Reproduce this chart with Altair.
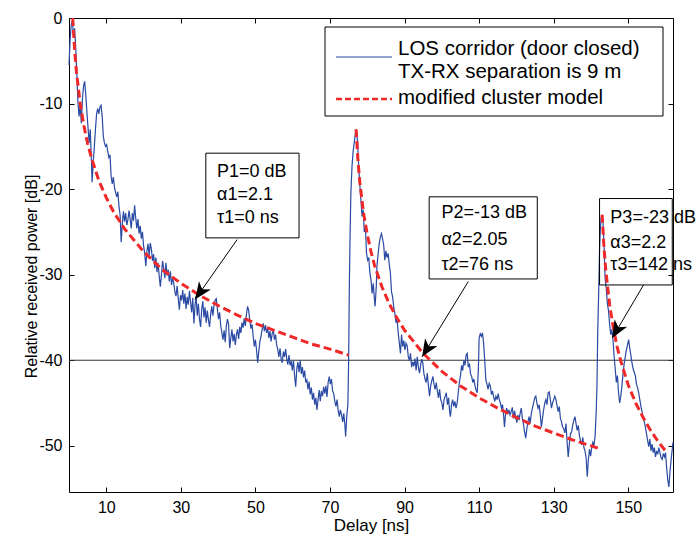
import altair as alt
import pandas as pd

# ---------------- data ----------------
# measured power delay profile (delay ns, relative power dB)
meas_seg1 = [(0.0,-5.5),(0.3,-2.5),(0.6,-0.8),(0.9,-0.3),(1.2,-2.0),(1.5,-1.2),(1.8,-3.5),(2.1,-6.5),(2.4,-9.8),(2.7,-11.5),
             (3.0,-10.2),(3.3,-12.3),(3.6,-9.5),(3.9,-8.0),(4.2,-7.4),(4.5,-9.0),(4.8,-11.0),(5.1,-12.8),(5.4,-14.6),(5.7,-13.0),
             (6.0,-16.5),(6.2,-19.2),(6.5,-16.8),(6.8,-15.0),(7.1,-13.0),(7.4,-11.2),(7.7,-10.6),(8.0,-11.2),(8.3,-10.4),(8.6,-10.2),
             (8.9,-11.5),(9.2,-13.8),(9.5,-14.6),(9.8,-15.0),(10.1,-14.8),(10.4,-15.6),(10.7,-16.3),(11.0,-16.0),(11.3,-18.5),(11.6,-19.4),
             (11.9,-18.6),(12.2,-19.8),(12.5,-20.4),(12.8,-20.9),(13.1,-20.3),(13.4,-22.0),(13.7,-23.0),(14.0,-26.2),(14.3,-24.0),(14.6,-22.6),
             (14.9,-23.8),(15.2,-22.8),(15.5,-24.2),(15.8,-23.6),(16.1,-22.5),(16.4,-23.5),(16.7,-24.6),(17.0,-22.8),(17.3,-23.7),(17.6,-21.9),
             (17.9,-23.4),(18.2,-24.6),(18.5,-23.5),(18.8,-25.2),(19.1,-24.3),(19.4,-25.8),(19.7,-25.0),(20.0,-26.6),(20.3,-27.5),(20.6,-29.0),
             (20.9,-27.2),(21.2,-26.4),(21.5,-27.8),(21.8,-26.3),(22.1,-27.0),(22.4,-28.4),(22.7,-27.6),(23.0,-29.2),(23.3,-28.0),(23.6,-29.7),
             (23.9,-28.6),(24.2,-30.2),(24.5,-31.4),(24.8,-30.0),(25.1,-28.4),(25.4,-29.3),(25.7,-30.4),(26.0,-28.6),(26.3,-30.1),(26.6,-29.4),
             (26.9,-30.8),(27.2,-29.6),(27.5,-31.2),(27.8,-30.4),(28.1,-31.0),(28.4,-32.0),(28.7,-32.5),(29.0,-31.3),(29.3,-32.8),(29.6,-34.1),
             (29.9,-32.4)]
meas_seg2 = [(30.2,-33.0),(30.5,-31.8),(30.8,-33.4),(31.1,-32.2),(31.4,-34.0),(31.7,-32.6),(32.0,-33.5),(32.3,-31.9),(32.6,-33.2),(32.9,-34.4),
             (33.2,-32.7),(33.5,-35.7),(33.8,-33.6),(34.1,-32.5),(34.4,-34.8),(34.7,-33.4),(35.0,-35.2),(35.3,-36.1),(35.6,-34.0),(35.9,-33.1),
             (36.2,-35.0),(36.5,-33.8),(36.8,-35.6),(37.1,-34.2),(37.4,-35.3),(37.7,-36.1),(38.0,-34.6),(38.3,-33.7),(38.6,-34.8),(38.9,-33.5),
             (39.2,-33.0),(39.5,-32.8),(39.8,-34.0),(40.1,-35.2),(40.4,-34.4),(40.7,-36.0),(41.0,-36.8),(41.3,-37.6),(41.6,-36.5),(41.9,-37.9),
             (42.2,-36.0),(42.5,-35.2),(42.8,-35.8),(43.1,-38.6),(43.4,-37.4),(43.7,-36.4),(44.0,-37.8),(44.3,-36.9),(44.6,-38.2),(44.9,-37.0),
             (45.2,-36.4),(45.5,-37.5),(45.8,-36.1),(46.1,-36.8),(46.4,-35.6),(46.7,-36.2),(47.0,-35.1),(47.3,-36.0),(47.6,-34.6),(47.9,-33.7),
             (48.2,-34.2),(48.5,-35.4),(48.8,-36.3),(49.1,-35.8),(49.4,-37.2),(49.7,-38.4),(50.0,-37.6),(50.3,-38.8),(50.6,-40.3),(50.9,-39.0),
             (51.2,-37.8),(51.5,-37.2),(51.8,-36.4),(52.1,-35.7),(52.4,-36.6),(52.7,-35.9),(53.0,-36.8),(53.3,-36.2),(53.6,-37.4),(53.9,-36.6),
             (54.2,-37.8),(54.5,-36.9),(54.8,-36.4),(55.1,-37.6),(55.4,-37.0),(55.7,-38.2),(56.0,-38.8),(56.3,-39.6),(56.6,-38.6),(56.9,-39.9),
             (57.2,-40.3),(57.5,-39.0),(57.8,-39.6),(58.1,-38.7),(58.4,-39.8),(58.7,-40.5),(59.0,-39.4),(59.3,-40.6),(59.6,-40.1)]
meas_seg3 = [(59.9,-41.2),(60.2,-40.0),(60.5,-41.8),(60.8,-43.1),(61.1,-41.0),(61.4,-40.2),(61.7,-41.4),(62.0,-40.0),(62.3,-41.6),(62.6,-40.8),
             (62.9,-42.0),(63.2,-41.2),(63.5,-42.6),(63.8,-42.3),(64.1,-43.4),(64.4,-42.5),(64.7,-44.0),(65.0,-43.2),(65.3,-44.6),(65.6,-43.8),
             (65.9,-45.2),(66.2,-44.4),(66.5,-45.8),(66.8,-44.6),(67.1,-43.5),(67.4,-44.8),(67.7,-43.6),(68.0,-44.2),(68.3,-43.1),(68.6,-43.9),
             (68.9,-43.0),(69.2,-44.3),(69.5,-42.6),(69.8,-41.9),(70.1,-42.8),(70.4,-42.2),(70.7,-43.6),(71.0,-43.9),(71.3,-44.8),(71.6,-45.4),
             (71.9,-44.6),(72.2,-45.9),(72.5,-46.6),(72.8,-45.8),(73.1,-46.4),(73.4,-47.2),(73.7,-46.2),(74.0,-47.6),(74.2,-48.9),(74.5,-46.5),
             (74.8,-45.2),(75.0,-40.0),(75.2,-31.0),(75.4,-25.1),(75.6,-20.5),(75.9,-17.4),(76.2,-15.6),(76.5,-14.6),(76.8,-13.5),(77.1,-13.2),
             (77.4,-14.4),(77.7,-17.4),(78.0,-19.5),(78.3,-21.3),(78.6,-23.2),(78.9,-22.4),(79.2,-25.0),(79.5,-24.5),(79.8,-27.5),(80.1,-28.3),
             (80.4,-28.0),(80.7,-29.8),(81.0,-30.6),(81.3,-32.2),(81.6,-31.0),(81.9,-32.8),(82.1,-33.7),(82.4,-31.5),(82.6,-29.0),(82.9,-27.6),
             (83.2,-26.4),(83.5,-25.6),(83.8,-25.2),(84.1,-25.8),(84.4,-26.5),(84.7,-28.3),(85.0,-27.2),(85.3,-28.0),(85.6,-27.5),(85.9,-28.8),
             (86.2,-29.8),(86.5,-32.0),(86.8,-32.6),(87.1,-33.8),(87.4,-34.5),(87.7,-35.6),(88.0,-35.2),(88.3,-36.8),(88.6,-38.0),(88.9,-39.2),
             (89.2,-37.0),(89.5,-38.4),(89.8,-37.7)]
meas_seg4 = [(90.1,-38.8),(90.4,-38.0),(90.7,-38.3),(91.0,-39.6),(91.3,-40.0),(91.6,-39.2),(91.9,-40.8),(92.2,-40.2),(92.5,-40.7),(92.8,-39.8),
             (93.1,-41.2),(93.4,-39.6),(93.7,-40.8),(94.0,-41.5),(94.3,-40.6),(94.6,-39.9),(94.9,-40.3),(95.2,-41.6),(95.5,-42.2),(95.8,-42.6),
             (96.1,-41.5),(96.4,-43.0),(96.7,-44.2),(97.0,-43.0),(97.3,-42.4),(97.6,-41.9),(97.9,-42.8),(98.2,-43.4),(98.5,-42.6),(98.8,-43.6),
             (99.1,-44.4),(99.4,-43.4),(99.7,-44.6),(100.0,-45.0),(100.3,-45.8),(100.6,-44.6),(100.9,-44.2),(101.2,-43.8),(101.5,-45.2),(101.8,-44.4),
             (102.1,-46.0),(102.3,-46.6),(102.6,-45.2),(102.9,-44.6),(103.2,-45.4),(103.5,-44.8),(103.8,-45.6),(104.1,-45.0),(104.4,-43.8),(104.7,-42.6),
             (105.0,-41.8),(105.3,-40.6),(105.6,-41.2),(105.9,-40.0),(106.2,-40.6),(106.5,-39.4),(106.8,-39.2),(107.1,-40.8),(107.4,-40.4),(107.7,-41.6),
             (108.0,-41.9),(108.3,-42.6),(108.6,-42.2),(108.9,-43.0),(109.2,-43.5),(109.5,-43.8),(109.8,-41.0),(110.0,-37.4),(110.3,-36.9),(110.6,-37.2),
             (110.9,-36.8),(111.2,-38.0),(111.5,-40.0),(111.8,-42.3),(112.1,-42.8),(112.4,-43.4),(112.7,-42.7),(113.0,-43.0),(113.3,-44.0),(113.6,-43.6),
             (113.9,-44.3),(114.2,-44.8),(114.5,-44.2),(114.8,-44.6),(115.1,-43.9),(115.4,-44.6),(115.7,-45.0),(116.0,-45.6),(116.3,-45.2),(116.6,-46.6),
             (116.8,-47.8),(117.1,-46.2),(117.4,-45.6),(117.7,-46.3),(118.0,-45.8),(118.3,-46.4),(118.6,-46.0),(118.9,-45.5),(119.2,-46.8),(119.5,-45.9),
             (119.8,-46.6)]
meas_seg5 = [(120.1,-47.3),(120.4,-46.4),(120.7,-47.0),(121.0,-46.2),(121.3,-45.6),(121.6,-46.8),(121.9,-47.5),(122.2,-48.4),(122.5,-49.1),(122.8,-48.0),
             (123.1,-47.2),(123.4,-46.6),(123.7,-47.4),(124.0,-46.2),(124.3,-45.6),(124.6,-45.0),(124.9,-44.4),(125.2,-44.2),(125.5,-45.0),(125.8,-45.6),
             (126.1,-45.2),(126.4,-46.4),(126.7,-47.8),(127.0,-46.8),(127.3,-45.8),(127.6,-45.0),(127.9,-44.6),(128.2,-45.2),(128.5,-43.8),(128.8,-43.7),
             (129.1,-44.6),(129.4,-45.6),(129.7,-45.0),(130.0,-44.6),(130.3,-44.2),(130.6,-44.6),(130.9,-45.3),(131.2,-46.0),(131.5,-45.4),(131.8,-46.8),
             (132.1,-47.2),(132.4,-47.8),(132.7,-48.0),(133.0,-48.5),(133.3,-47.4),(133.6,-49.6),(133.9,-51.3),(134.2,-49.8),(134.5,-48.6),(134.8,-48.4),
             (135.1,-47.6),(135.4,-47.0),(135.7,-46.6),(136.0,-47.4),(136.3,-48.2),(136.6,-47.6),(136.9,-48.8),(137.2,-49.4),(137.5,-49.9),(137.8,-49.0),
             (138.1,-50.2),(138.4,-50.6),(138.7,-51.4),(139.0,-53.6),(139.3,-51.6),(139.6,-50.4),(139.9,-51.2),(140.2,-50.2),(140.5,-49.6),(140.8,-50.0),
             (141.1,-48.9),(141.4,-46.0),(141.6,-43.1),(141.8,-37.0),(142.1,-31.4),(142.3,-27.0),(142.5,-24.8),(142.7,-23.4),(142.9,-23.0),(143.2,-23.6),
             (143.5,-26.5),(143.8,-30.5),(144.1,-31.6),(144.4,-33.4),(144.7,-34.2),(145.0,-35.8),(145.3,-37.0),(145.6,-36.4),(145.9,-37.6),(146.2,-39.5),
             (146.5,-41.0),(146.8,-42.6),(147.1,-41.8),(147.4,-43.8),(147.7,-45.0),(148.0,-44.2),(148.3,-43.0),(148.6,-41.6),(148.9,-40.4),(149.2,-39.6),
             (149.5,-38.8),(149.8,-38.2),(150.1,-37.6),(150.4,-38.6),(150.7,-39.4),(151.0,-40.3),(151.3,-41.0),(151.6,-41.4),(151.9,-41.8),(152.2,-42.8),
             (152.5,-43.2),(152.8,-43.8),(153.1,-44.6),(153.4,-45.4),(153.7,-46.0),(154.0,-46.8),(154.3,-47.2),(154.6,-47.8),(154.9,-48.6),(155.2,-49.4),
             (155.5,-50.1),(155.8,-49.2),(156.1,-50.6),(156.4,-49.8),(156.7,-50.8),(157.0,-50.2),(157.3,-51.3),(157.6,-50.6),(157.9,-51.0),(158.2,-50.2),
             (158.5,-50.8),(158.8,-51.4),(159.1,-51.6),(159.4,-50.9),(159.7,-51.3),(160.0,-50.8),(160.3,-52.6),(160.6,-54.0),(160.9,-54.8),(161.2,-53.0),
             (161.5,-51.6),(161.8,-50.4),(162.0,-49.6)]

# modified cluster model (three clusters)
model_c1_t = [1, 1.5, 2, 3, 4, 5, 6, 8, 10, 12, 15, 20, 25, 30, 35, 40, 45, 50, 55, 60, 65, 70, 75]
model_c1_db = [0.0, -3.7, -6.3, -10.0, -12.6, -14.7, -16.3, -19.0, -21.0, -22.7, -24.7, -27.3, -29.4, -31.0,
               -32.4, -33.6, -34.7, -35.7, -36.5, -37.3, -38.1, -38.7, -39.4]
model_c2_t = [77, 77.5, 78, 79, 80, 81, 82, 84, 86, 88, 90, 95, 100, 105, 110, 115, 120, 125, 130, 135, 140, 142]
model_c2_db = [-13.0, -16.6, -19.2, -22.8, -25.3, -27.3, -29.0, -31.5, -33.5, -35.1, -36.5, -39.2, -41.3, -43.0,
               -44.4, -45.6, -46.7, -47.7, -48.5, -49.3, -50.0, -50.3]
model_c3_t = [143, 143.5, 144, 145, 146, 147, 148, 150, 152, 154, 156, 158, 160]
model_c3_db = [-23.0, -26.9, -29.6, -33.5, -36.2, -38.4, -40.1, -42.9, -45.0, -46.7, -48.2, -49.5, -50.6]

x_tick_values = [10, 30, 50, 70, 90, 110, 130, 150]
y_tick_values = [0, -10, -20, -30, -40, -50]
ref_level = [-40]

legend_labels = ["LOS corridor (door closed)", "TX-RX separation is 9 m", "modified cluster model"]
ann_labels = [["P1=0 dB", "α1=2.1", "τ1=0 ns"],
              ["P2=-13 dB", "α2=2.05", "τ2=76 ns"],
              ["P3=-23 dB", "α3=2.2", "τ3=142 ns"]]

# ---------------- layout / style ----------------
W, H = 604, 474
FONT = "Liberation Sans"
BLUE = "#2a4aa3"
RED = "#f02828"

xs = alt.Scale(domain=[0, 162], nice=False, zero=False)
ys = alt.Scale(domain=[-55.4, 0], nice=False, zero=False)

# annotation geometry in data units (box corners, text anchor, arrow start/tip, head angle)
ann_boxes = [dict(x1=36.7, x2=61.7, y1=-15.8, y2=-25.7, tx=39.7, ty=[-18.0, -20.7, -23.4],
                  ax=45.1, ay=-25.9, hx=33.8, hy=-32.9, ang=215),
             dict(x1=96.6, x2=125.6, y1=-20.9, y2=-30.5, tx=99.9, ty=[-22.8, -25.9, -28.9],
                  ax=107.1, ay=-30.8, hx=94.7, hy=-39.6, ang=212),
             dict(x1=142.3, x2=161.8, y1=-21.1, y2=-31.2, tx=145.2, ty=[-23.4, -26.3, -28.9],
                  ax=154.1, ay=-31.2, hx=145.7, hy=-37.4, ang=210)]

# ---------------- tables ----------------
meas_df = pd.DataFrame(meas_seg1 + meas_seg2 + meas_seg3 + meas_seg4 + meas_seg5, columns=["t", "db"])
meas_df["i"] = range(len(meas_df))

model_rows = []
for name, ts, ds in [("c1", model_c1_t, model_c1_db), ("c2", model_c2_t, model_c2_db), ("c3", model_c3_t, model_c3_db)]:
    for k, (tv, dv) in enumerate(zip(ts, ds)):
        model_rows.append({"t": tv, "db": dv, "cluster": name, "k": k})
model_df = pd.DataFrame(model_rows)

box_df = pd.DataFrame([{k: b[k] for k in ("x1", "x2", "y1", "y2")} for b in ann_boxes])
arrow_df = pd.DataFrame([{k: b[k] for k in ("ax", "ay", "hx", "hy", "ang")} for b in ann_boxes])
text_rows = []
for b, lines in zip(ann_boxes, ann_labels):
    for ty, s in zip(b["ty"], lines):
        text_rows.append({"x": b["tx"], "y": ty, "s": s})
text_df = pd.DataFrame(text_rows)
dummy = pd.DataFrame({"d": [0]})

# ---------------- axes (inward ticks via negative offset) ----------------
ax_bottom = alt.Axis(orient="bottom", values=x_tick_values, offset=-5, domain=False, grid=False,
                     tickSize=5, tickColor="black", tickWidth=1, labelPadding=7,
                     labelFont=FONT, labelFontSize=16, labelColor="black", labelFlush=False,
                     title="Delay [ns]", titleFont=FONT, titleFontSize=17, titleFontWeight="normal",
                     titleColor="black", titleBaseline="middle", titleY=38)
ax_left = alt.Axis(orient="left", values=y_tick_values, offset=-5, domain=False, grid=False,
                   tickSize=5, tickColor="black", tickWidth=1, labelPadding=7,
                   labelFont=FONT, labelFontSize=16, labelColor="black", labelExpr="'' + datum.value",
                   title="Relative received power [dB]", titleFont=FONT, titleFontSize=16,
                   titleFontWeight="normal", titleColor="black", titleBaseline="middle",
                   titleAngle=270, titleX=-43, titleY=258)
ax_top = alt.Axis(orient="top", values=x_tick_values, offset=-5, domain=False, grid=False,
                  labels=False, tickSize=5, tickColor="black", tickWidth=1, title=None)
ax_right = alt.Axis(orient="right", values=y_tick_values, offset=-5, domain=False, grid=False,
                    labels=False, tickSize=5, tickColor="black", tickWidth=1, title=None)

# ---------------- layers ----------------
hline = alt.Chart(pd.DataFrame({"v": ref_level})).mark_rule(color="#333333", strokeWidth=1).encode(
    y=alt.Y("v:Q", scale=ys, axis=None))

meas_line = alt.Chart(meas_df).mark_line(color=BLUE, strokeWidth=1.2).encode(
    x=alt.X("t:Q", scale=xs, axis=ax_bottom),
    y=alt.Y("db:Q", scale=ys, axis=ax_left),
    order="i:Q")

model_line = alt.Chart(model_df).mark_line(color=RED, strokeWidth=3, strokeDash=[8, 4]).encode(
    x=alt.X("t:Q", scale=xs, axis=ax_top),
    y=alt.Y("db:Q", scale=ys, axis=ax_right),
    detail="cluster:N", order="k:Q")

leg_box = alt.Chart(dummy).mark_rect(fill="white", stroke="black", strokeWidth=1).encode(
    x=alt.value(256), x2=alt.value(594), y=alt.value(9), y2=alt.value(98))
leg_blue = alt.Chart(dummy).mark_rule(color=BLUE, strokeWidth=1).encode(
    x=alt.value(267), x2=alt.value(323), y=alt.value(39))
leg_red = alt.Chart(dummy).mark_rule(color=RED, strokeWidth=2.5, strokeDash=[6, 3]).encode(
    x=alt.value(267), x2=alt.value(323), y=alt.value(81))
leg_texts = [alt.Chart(dummy).mark_text(align="left", baseline="middle", font=FONT, fontSize=20.5,
                                        color="black").encode(
    x=alt.value(329), y=alt.value(yy), text=alt.value(lbl))
    for yy, lbl in zip([31, 54, 80], legend_labels)]

ann_box = alt.Chart(box_df).mark_rect(fill="white", fillOpacity=0, stroke="black", strokeWidth=1).encode(
    x=alt.X("x1:Q", scale=xs, axis=None), x2="x2:Q",
    y=alt.Y("y1:Q", scale=ys, axis=None), y2="y2:Q")
ann_text = alt.Chart(text_df).mark_text(align="left", baseline="middle", font=FONT, fontSize=18,
                                        color="black").encode(
    x=alt.X("x:Q", scale=xs, axis=None), y=alt.Y("y:Q", scale=ys, axis=None), text="s:N")
arrow_line = alt.Chart(arrow_df).mark_rule(color="black", strokeWidth=1).encode(
    x=alt.X("ax:Q", scale=xs, axis=None), x2="hx:Q",
    y=alt.Y("ay:Q", scale=ys, axis=None), y2="hy:Q")
arrow_head = alt.Chart(arrow_df).mark_point(
    shape="M0,0 L0.42,1 L0,0.72 L-0.42,1 Z", filled=True, color="black", opacity=1,
    size=1200, strokeWidth=0).encode(
    x=alt.X("hx:Q", scale=xs, axis=None), y=alt.Y("hy:Q", scale=ys, axis=None),
    angle=alt.Angle("ang:Q", scale=None))

chart = alt.layer(
    hline, meas_line, model_line, leg_box, leg_blue, leg_red, *leg_texts,
    ann_box, ann_text, arrow_line, arrow_head
).resolve_axis(x="independent", y="independent").properties(
    width=W, height=H,
    autosize=alt.AutoSizeParams(type="none"),
    padding={"left": 69, "top": 18, "right": 25, "bottom": 54},
    background="white"
).configure_view(stroke="black", strokeWidth=1)

chart.save("out.html", embed_options={"renderer": "svg", "actions": False})
